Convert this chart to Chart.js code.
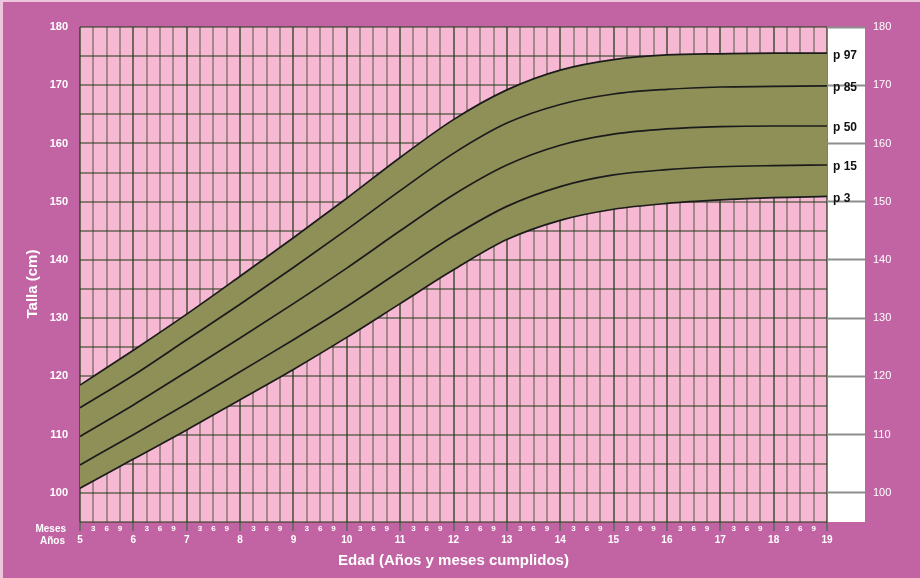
<!DOCTYPE html>
<html>
<head>
<meta charset="utf-8">
<script src="https://cdn.jsdelivr.net/npm/chart.js@4.4.1/dist/chart.umd.min.js"></script>
<style>
html,body{margin:0;padding:0;background:#C264A4;}
#wrap{width:920px;height:578px;position:relative;}
</style>
</head>
<body>
<div id="wrap"><canvas id="c" width="920" height="578"></canvas></div>
<script>
// ---- data (ages in years, height in cm) ----
const ages = [5, 6, 7, 8, 9, 10, 11, 12, 13, 14, 15, 16, 17, 18, 19];
const p3  = [100.8, 105.8, 110.8, 116.0, 121.2, 126.7, 132.5, 138.3, 143.5, 146.8, 148.7, 149.7, 150.3, 150.7, 150.9];
const p15 = [104.8, 110.0, 115.3, 120.8, 126.3, 132.0, 138.1, 144.1, 149.2, 152.6, 154.6, 155.5, 156.0, 156.2, 156.3];
const p50 = [109.7, 115.1, 120.8, 126.6, 132.5, 138.6, 145.0, 151.2, 156.3, 159.7, 161.6, 162.5, 162.9, 163.0, 163.0];
const p85 = [114.6, 120.2, 126.3, 132.4, 138.7, 145.2, 151.9, 158.3, 163.5, 166.7, 168.5, 169.3, 169.7, 169.8, 169.9];
const p97 = [118.5, 124.5, 130.7, 137.2, 143.8, 150.6, 157.6, 164.1, 169.2, 172.6, 174.4, 175.2, 175.4, 175.5, 175.5];
const seriesLabels = ['p 3', 'p 15', 'p 50', 'p 85', 'p 97'];
const seriesValues = [p3, p15, p50, p85, p97];
const monthLabels = ['', '3', '6', '9'];
const yTitle = 'Talla (cm)';
const xTitle = 'Edad (Años y meses cumplidos)';
const rowLabels = ['Meses', 'Años'];

// ---- styles ----
const MAGENTA = '#C264A4';
const PINK = '#F7B8D4';
const OLIVE = '#8F8F58';
const FAM = '"Liberation Sans Narrow", "Liberation Sans", Arial, sans-serif';
const tv = c => (c && c.tick) ? c.tick.value : NaN;
const isYear = v => !isNaN(v) && Math.abs(v - Math.round(v)) < 1e-6;

const datasets = seriesValues.map((vals, i) => ({
  label: seriesLabels[i],
  data: ages.map((a, j) => ({x: a, y: vals[j]})),
  borderColor: '#1b1b1b',
  borderWidth: 1.7,
  pointRadius: 0,
  cubicInterpolationMode: 'monotone',
  yAxisID: 'y',
  fill: i === 4 ? {target: '-4', above: OLIVE, below: OLIVE} : false
}));

const bgPlugin = {
  id: 'bg',
  beforeDraw(chart) {
    const {ctx, chartArea: ca, width, height} = chart;
    ctx.save();
    ctx.fillStyle = MAGENTA;
    ctx.fillRect(0, 0, width, height);
    ctx.fillStyle = '#EBC6DC';
    ctx.fillRect(0, 0, width, 2);
    ctx.fillRect(0, 0, 3, height);
    ctx.fillStyle = PINK;
    ctx.fillRect(ca.left, ca.top, ca.right - ca.left, ca.bottom - ca.top);
    ctx.fillStyle = '#FFFFFF';
    ctx.fillRect(ca.right, ca.top, 38, ca.bottom - ca.top);
    ctx.restore();
  },
  afterDraw(chart) {
    const {ctx, chartArea: ca} = chart;
    ctx.save();
    ctx.fillStyle = '#111';
    ctx.font = 'bold 12px ' + FAM;
    ctx.textAlign = 'left';
    ctx.textBaseline = 'middle';
    chart.data.datasets.forEach((ds, i) => {
      const meta = chart.getDatasetMeta(i);
      const pt = meta.data[meta.data.length - 1];
      ctx.fillText(ds.label, pt.x + 6, pt.y + 2);
    });
    ctx.fillStyle = '#FFFFFF';
    ctx.font = 'bold 10px ' + FAM;
    ctx.textAlign = 'right';
    ctx.fillText(rowLabels[0], 66, ca.bottom + 7);
    ctx.fillText(rowLabels[1], 65, ca.bottom + 19);
    // y axis title
    ctx.font = 'bold 15px ' + FAM;
    ctx.textAlign = 'center';
    ctx.translate(33, 284);
    ctx.rotate(-Math.PI / 2);
    ctx.fillText(yTitle, 0, 0);
    ctx.restore();
  }
};

new Chart(document.getElementById('c'), {
  type: 'line',
  data: {datasets},
  plugins: [bgPlugin],
  options: {
    responsive: false,
    animation: false,
    layout: {padding: {top: 27, left: 0, right: 0, bottom: 0}},
    plugins: {legend: {display: false}, tooltip: {enabled: false}},
    scales: {
      x: {
        type: 'linear', min: 5, max: 19, z: 1,
        afterFit: s => { s.height = 56; },
        border: {display: false},
        grid: {
          color: c => isYear(tv(c)) ? 'rgba(30,55,20,0.62)' : 'rgba(30,55,20,0.38)',
          lineWidth: 2,
          drawTicks: true,
          tickLength: 9,
          tickWidth: 2,
          tickColor: c => isYear(tv(c)) ? '#6a6a6a' : 'rgba(0,0,0,0)'
        },
        ticks: {
          stepSize: 0.25, autoSkip: false, maxRotation: 0, minRotation: 0,
          padding: -7, color: '#FFFFFF',
          font: c => isYear(tv(c))
            ? {family: FAM, size: 10, weight: 'bold', lineHeight: 1.1}
            : {family: FAM, size: 8, weight: 'bold', lineHeight: 1.2},
          callback: v => {
            const q = Math.round((v - Math.floor(v)) * 4) % 4;
            return q === 0 ? ['', String(Math.round(v))] : monthLabels[q];
          }
        },
        title: {display: true, text: xTitle, color: '#FFFFFF',
          font: {family: FAM, size: 15, weight: 'bold'}, padding: {top: 0, bottom: 8}}
      },
      y: {
        position: 'left', min: 95, max: 180, z: 1,
        afterFit: s => { s.width = 80; },
        border: {display: false},
        grid: {color: 'rgba(30,55,20,0.5)', lineWidth: 2, drawTicks: false},
        ticks: {stepSize: 5, padding: 12, color: '#FFFFFF',
          font: {family: FAM, size: 11, weight: 'bold'},
          callback: v => (v % 10 === 0 ? String(v) : '')},
        title: {display: false, text: yTitle}
      },
      y2: {
        position: 'right', min: 95, max: 180,
        afterFit: s => { s.width = 93; },
        border: {display: false},
        grid: {drawOnChartArea: false, drawTicks: true, tickLength: 38, tickWidth: 2,
          tickColor: c => (tv(c) % 10 === 0) ? '#8e8e8e' : 'rgba(0,0,0,0)'},
        ticks: {stepSize: 10, padding: 8, color: '#FFFFFF',
          font: {family: FAM, size: 11},
          callback: v => (v % 10 === 0 ? String(v) : '')}
      }
    }
  }
});
</script>
</body>
</html>
